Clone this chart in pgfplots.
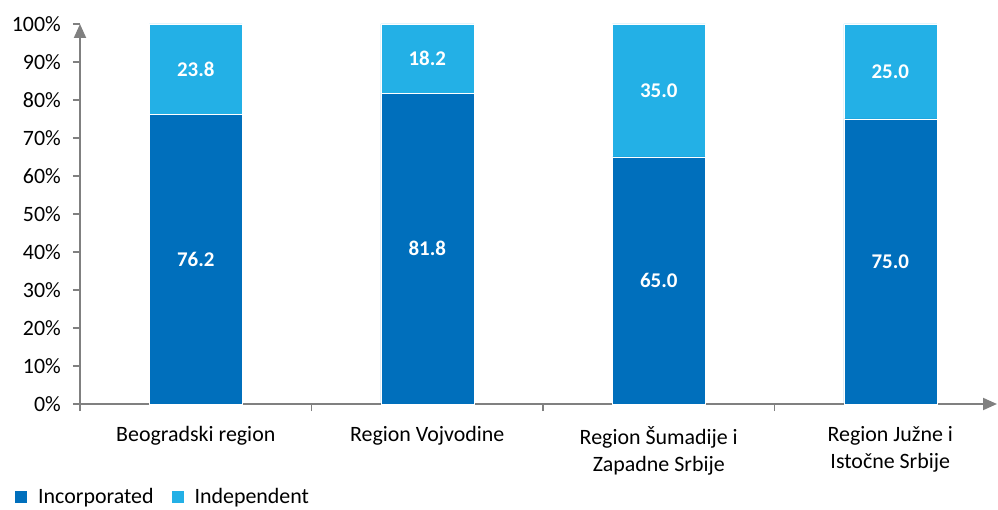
\documentclass[border=0pt]{standalone}
\usepackage{fontspec}
\setmainfont{Carlito}
\usepackage{pgfplots}
\usepackage{pgfplotstable}
\pgfplotsset{compat=1.18}
\usetikzlibrary{arrows.meta}
\definecolor{incorp}{RGB}{0,111,188}
\definecolor{indep}{RGB}{35,176,230}
\definecolor{axgray}{RGB}{128,128,128}
\pgfplotstableread{
x inc ind
0 76.2 23.8
1 81.8 18.2
2 65.0 35.0
3 75.0 25.0
}\data
\pgfplotstableread{
x y lab
0 38.1 76.2
0 88.1 23.8
1 40.9 81.8
1 90.9 18.2
2 32.5 65.0
2 82.5 35.0
3 37.5 75.0
3 87.5 25.0
}\labels
\begin{document}
\begin{tikzpicture}
\path[use as bounding box] (-80bp,-106bp) rectangle (918bp,404bp);
\begin{axis}[
  at={(0,0)}, anchor=south west, scale only axis,
  width=917bp, height=380bp,
  xmin=-0.5, xmax=3.461, ymin=0, ymax=100,
  ybar stacked, bar width=93bp,
  axis x line=bottom, axis y line=left,
  axis line style={draw=axgray, line width=2bp, -{Triangle[length=14bp,width=12bp]}},
  tick align=outside, major tick length=7bp, minor tick length=7bp,
  tick style={draw=axgray, line width=1.5bp},
  ytick={0,10,...,100},
  yticklabel={\pgfmathprintnumber[assume math mode=true]{\tick}\%},
  yticklabel style={font=\fontsize{22}{22}\selectfont, color=black, anchor=east, inner sep=0pt, xshift=-12bp},
  xtick={0,1,2,3},
  xticklabels={Beogradski region, Region Vojvodine, {Region Šumadije i\\Zapadne Srbije}, {Region Južne i\\Istočne Srbije}},
  xticklabel style={font=\fontsize{22}{27}\selectfont, color=black, align=center, anchor=north, inner sep=0pt, yshift=-15bp},
  major x tick style={draw=none},
  minor xtick={-0.5,0.5,1.5,2.5},
  legend style={at={(-0.0709,-0.2440)}, anchor=west, draw=none, fill=none, inner sep=0pt,
    font=\fontsize{22}{22}\selectfont, legend columns=2,
    nodes={inner sep=0pt},
    /tikz/every odd column/.append style={column sep=11bp},
    /tikz/every even column/.append style={column sep=18bp}},
  legend image code/.code={\fill[#1,draw=none] (0bp,-6bp) rectangle (12bp,6bp);},
]
\addplot[fill=incorp, draw=white, line width=0.5bp] table[x=x, y=inc] {\data};
\addlegendentry{Incorporated}
\addplot[fill=indep, draw=white, line width=0.5bp] table[x=x, y=ind] {\data};
\addlegendentry{Independent}
\end{axis}
\begin{axis}[
  at={(0,0)}, anchor=south west, scale only axis,
  width=917bp, height=380bp,
  xmin=-0.5, xmax=3.461, ymin=0, ymax=100,
  hide axis, clip=false,
]
\addplot[draw=none, mark=none, nodes near coords, point meta=explicit symbolic,
  every node near coord/.append style={anchor=center, font=\bfseries\fontsize{21}{21}\selectfont, color=white}]
  table[x=x, y=y, meta=lab] {\labels};
\end{axis}
\end{tikzpicture}
\end{document}
